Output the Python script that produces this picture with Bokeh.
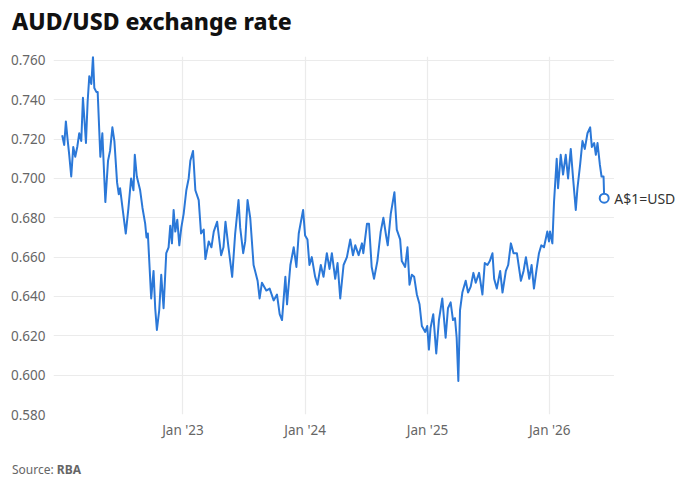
import pandas as pd
from bokeh.plotting import figure
from bokeh.layouts import column
from bokeh.models import Range1d, FixedTicker, Label, NumeralTickFormatter, BoxAnnotation, Div
from bokeh.embed import file_html
from bokeh.resources import INLINE

# ---- data ----
d22 = ["2022-01-05","2022-01-11","2022-01-16","2022-01-21","2022-01-26","2022-02-01","2022-02-07","2022-02-13","2022-02-19","2022-02-25",
       "2022-03-03","2022-03-08","2022-03-12","2022-03-17","2022-03-22","2022-03-27","2022-04-02","2022-04-07","2022-04-11","2022-04-17",
       "2022-04-21","2022-04-29","2022-05-05","2022-05-14","2022-05-22","2022-05-28","2022-06-04","2022-06-10","2022-06-18","2022-06-23",
       "2022-06-27","2022-07-05","2022-07-14","2022-07-22","2022-07-30","2022-08-06","2022-08-10","2022-08-16","2022-08-26","2022-09-02",
       "2022-09-10","2022-09-14","2022-09-18","2022-09-28","2022-10-05","2022-10-10","2022-10-15","2022-10-22","2022-10-28","2022-11-04",
       "2022-11-12","2022-11-19","2022-11-24","2022-11-29","2022-12-04","2022-12-09","2022-12-15","2022-12-21","2022-12-27"]
v22 = [0.722,0.717,0.729,0.720,0.712,0.701,0.716,0.711,0.716,0.723,
       0.719,0.741,0.731,0.718,0.739,0.752,0.748,0.762,0.746,0.744,
       0.744,0.711,0.723,0.688,0.709,0.714,0.726,0.719,0.698,0.692,
       0.695,0.684,0.672,0.685,0.700,0.694,0.712,0.701,0.694,0.685,
       0.677,0.670,0.672,0.639,0.653,0.634,0.623,0.633,0.651,0.634,
       0.662,0.665,0.676,0.667,0.684,0.673,0.679,0.666,0.675]

d23 = ["2023-01-03","2023-01-11","2023-01-18","2023-01-23","2023-01-31","2023-02-07","2023-02-17","2023-02-24","2023-03-04","2023-03-09",
       "2023-03-19","2023-03-27","2023-04-03","2023-04-13","2023-04-18","2023-04-25","2023-05-02","2023-05-08","2023-05-17","2023-05-28",
       "2023-06-06","2023-06-16","2023-06-21","2023-06-30","2023-07-06","2023-07-13","2023-07-21","2023-07-31","2023-08-12","2023-08-18",
       "2023-08-25","2023-09-07","2023-09-17","2023-09-29","2023-10-09","2023-10-17","2023-10-24","2023-11-03","2023-11-08","2023-11-18",
       "2023-11-28","2023-12-06","2023-12-13","2023-12-26"]
v23 = [0.682,0.694,0.700,0.709,0.714,0.694,0.689,0.672,0.674,0.659,
       0.668,0.665,0.673,0.678,0.671,0.661,0.665,0.678,0.665,0.650,
       0.672,0.689,0.675,0.662,0.668,0.689,0.680,0.656,0.648,0.639,
       0.647,0.643,0.644,0.638,0.641,0.631,0.628,0.650,0.636,0.656,
       0.665,0.655,0.672,0.684]

d24 = ["2024-01-01","2024-01-08","2024-01-14","2024-01-21","2024-01-31","2024-02-07","2024-02-17","2024-02-25","2024-03-06","2024-03-14",
       "2024-03-21","2024-03-31","2024-04-07","2024-04-15","2024-04-25","2024-05-05","2024-05-15","2024-05-23","2024-05-30","2024-06-09",
       "2024-06-19","2024-06-23","2024-07-04","2024-07-10","2024-07-18","2024-07-25","2024-08-04","2024-08-14","2024-08-22","2024-08-30",
       "2024-09-04","2024-09-13","2024-09-24","2024-10-01","2024-10-11","2024-10-16","2024-10-26","2024-11-02","2024-11-08","2024-11-15",
       "2024-11-22","2024-11-30","2024-12-08","2024-12-15","2024-12-25","2024-12-31"]
v24 = [0.671,0.669,0.656,0.660,0.650,0.646,0.656,0.650,0.662,0.654,
       0.662,0.649,0.657,0.639,0.656,0.660,0.669,0.661,0.666,0.661,
       0.667,0.662,0.677,0.677,0.655,0.649,0.658,0.673,0.680,0.671,
       0.666,0.682,0.693,0.674,0.669,0.658,0.655,0.665,0.646,0.651,
       0.650,0.641,0.636,0.625,0.622,0.625]

d25 = ["2025-01-05","2025-01-10","2025-01-18","2025-01-27","2025-02-04","2025-02-14","2025-02-24","2025-03-03","2025-03-11","2025-03-18",
       "2025-03-24","2025-03-29","2025-04-03","2025-04-08","2025-04-15","2025-04-25","2025-05-02","2025-05-10","2025-05-18","2025-05-25",
       "2025-06-04","2025-06-14","2025-06-21","2025-06-29","2025-07-06","2025-07-14","2025-07-19","2025-07-27","2025-08-06","2025-08-13",
       "2025-08-23","2025-08-30","2025-09-07","2025-09-15","2025-09-25","2025-10-07","2025-10-15","2025-10-22","2025-11-01","2025-11-08",
       "2025-11-15","2025-11-23","2025-11-30","2025-12-07","2025-12-15","2025-12-25","2025-12-30"]
v25 = [0.613,0.624,0.631,0.611,0.628,0.639,0.619,0.634,0.637,0.628,
       0.629,0.619,0.597,0.633,0.642,0.648,0.642,0.645,0.652,0.647,
       0.652,0.641,0.657,0.656,0.658,0.662,0.649,0.644,0.653,0.642,
       0.653,0.656,0.667,0.662,0.662,0.648,0.653,0.660,0.649,0.656,
       0.644,0.654,0.662,0.666,0.665,0.673,0.668]

d26 = ["2026-01-02","2026-01-09","2026-01-14","2026-01-22","2026-01-26","2026-02-03","2026-02-10","2026-02-18","2026-02-25","2026-03-05",
       "2026-03-12","2026-03-20","2026-03-25","2026-04-02","2026-04-09","2026-04-16","2026-04-24","2026-05-02","2026-05-07","2026-05-14",
       "2026-05-19","2026-05-24","2026-05-31","2026-06-05","2026-06-11","2026-06-13"]
v26 = [0.673,0.667,0.688,0.710,0.695,0.712,0.702,0.712,0.700,0.715,
       0.700,0.684,0.695,0.707,0.719,0.715,0.723,0.726,0.716,0.718,
       0.712,0.718,0.707,0.701,0.701,0.690]

y_ticks = [0.58, 0.60, 0.62, 0.64, 0.66, 0.68, 0.70, 0.72, 0.74, 0.76]
x_tick_dates = ["2023-01-01", "2024-01-01", "2025-01-01", "2026-01-01"]
x_tick_labels = ["Jan '23", "Jan '24", "Jan '25", "Jan '26"]
title_text = "AUD/USD exchange rate"
end_label = "A$1=USD"
source_text = "Source:"
source_name = "RBA"

dates = pd.to_datetime(d22 + d23 + d24 + d25 + d26)
values = v22 + v23 + v24 + v25 + v26
assert len(dates) == len(values)

FONT = "Noto Sans"
LINE = "#2b78d8"
GRID = "#ebebeb"

def ms(s):
    return pd.Timestamp(s).value / 1e6

plot_end = "2026-07-12"   # where the gridlines stop

p = figure(width=681, height=408, x_axis_type="datetime",
           output_backend="svg", toolbar_location=None,
           x_range=Range1d(ms("2021-12-10"), ms("2027-01-30")),
           y_range=Range1d(0.58, 0.762),
           min_border_left=53, min_border_right=0,
           min_border_top=16, min_border_bottom=34, margin=0)
p.title.visible = False
p.outline_line_color = None
p.background_fill_color = "white"
p.border_fill_color = "white"

tick_ms = [ms(t) for t in x_tick_dates]
p.xaxis.ticker = FixedTicker(ticks=tick_ms)
p.xaxis.major_label_overrides = {t: l for t, l in zip(tick_ms, x_tick_labels)}
p.yaxis.ticker = FixedTicker(ticks=y_ticks)
p.yaxis.formatter = NumeralTickFormatter(format="0.000")

for ax in (p.xaxis, p.yaxis):
    ax.axis_line_color = None
    ax.major_tick_line_color = None
    ax.minor_tick_line_color = None
    ax.major_tick_out = 0
    ax.major_tick_in = 0
    ax.major_label_text_font = FONT
    ax.major_label_text_font_size = "13.5px"
    ax.major_label_text_color = "#666666"
p.xaxis.major_label_standoff = 6
p.yaxis.major_label_standoff = 8

p.xgrid.grid_line_color = GRID
p.ygrid.grid_line_color = GRID
p.xgrid.grid_line_width = 1.2
p.ygrid.grid_line_width = 1.2

# white mask so the gridlines stop where the reference's do
p.add_layout(BoxAnnotation(left=ms(plot_end), right=ms("2030-01-01"), bottom=0.0, top=1.0,
                           fill_color="white", fill_alpha=1.0, line_color=None,
                           level="underlay"))

p.line(dates, values, line_width=2, line_color=LINE, line_join="round")
p.scatter([dates[-1]], [values[-1]], size=9, fill_color="white",
          line_color=LINE, line_width=2)

p.add_layout(Label(x=ms(dates[-1]), y=values[-1], x_offset=10, text=end_label,
                   text_baseline="middle", text_font=FONT,
                   text_font_size="14px", text_color="#333333"))

title_div = Div(text=f'<div style="font-family:\'Noto Sans\';font-size:23px;font-weight:800;'
                     f'color:#111111;padding:5px 0 0 12px;line-height:normal;white-space:nowrap;">{title_text}</div>',
                width=681, height=40, margin=0)
source_div = Div(text=f'<div style="font-family:\'Noto Sans\';font-size:12px;color:#666666;'
                      f'padding:13px 0 0 12px;line-height:normal;white-space:nowrap;">'
                      f'{source_text} <b>{source_name}</b></div>',
                 width=681, height=34, margin=0)

layout = column(title_div, p, source_div, spacing=0, margin=0)

open("out.html", "w").write(file_html(layout, INLINE))
